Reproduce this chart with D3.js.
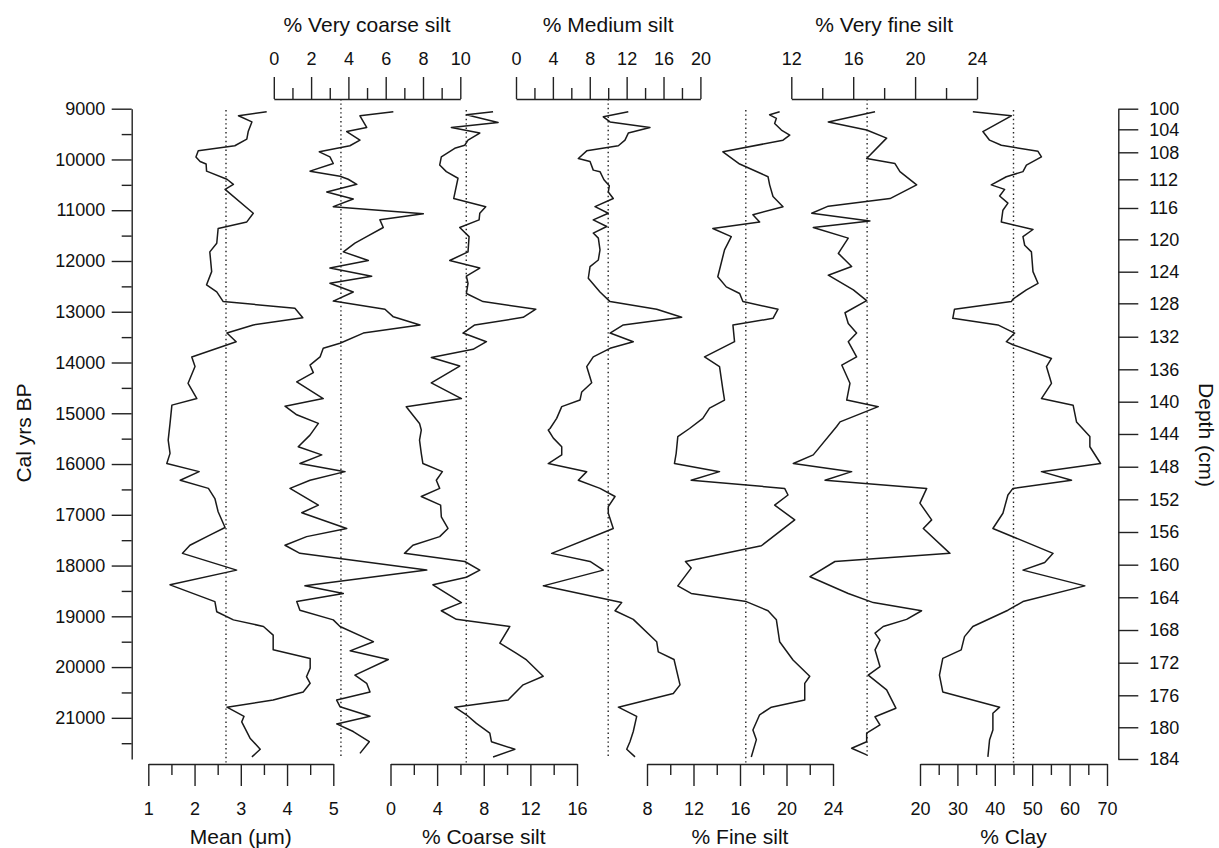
<!DOCTYPE html>
<html>
<head>
<meta charset="utf-8">
<script src="https://cdnjs.cloudflare.com/ajax/libs/d3/7.8.5/d3.min.js"></script>
<style>
    body { margin: 0; background: #fff; }
    svg text { font-family: "Liberation Sans", Arial, Helvetica, sans-serif; fill: #111; }
    .axis text { font-size: 18px; }
    .axis path, .axis line { stroke: #222; stroke-width: 1.4; fill: none; }
    .title { font-size: 21px; }
</style>
</head>
<body>
<div id="chart"></div>
<script>
    /****************************/
    /******data sets & vars******/
    /****************************/
    // each series: [cal yrs BP, value]
    var meanData = [[9060,3.56],[9140,2.95],[9260,3.24],[9450,3.16],[9600,3.13],[9730,2.87],[9830,2.08],[9950,2.03],
        [10040,2.12],[10090,2.25],[10230,2.26],[10390,2.70],[10490,2.84],[10590,2.66],[11060,3.27],[11230,3.13],
        [11360,2.51],[11650,2.48],[11820,2.33],[12210,2.37],[12470,2.26],[12610,2.48],[12800,2.62],[12930,4.17],
        [13120,4.34],[13260,3.27],[13420,2.70],[13590,2.90],[13890,1.94],[14080,2.01],[14410,1.86],[14710,2.05],
        [14840,1.51],[15200,1.47],[15530,1.43],[15790,1.47],[15990,1.40],[16150,2.10],[16320,1.69],[16480,2.30],
        [16680,2.44],[16940,2.51],[17250,2.66],[17400,2.33],[17600,1.90],[17760,1.74],[18090,2.91],[18380,1.47],
        [18710,2.44],[18910,2.48],[19070,2.84],[19200,3.49],[19370,3.70],[19660,3.70],[19830,4.50],[20020,4.50],
        [20190,4.42],[20320,4.50],[20490,4.35],[20650,3.70],[20790,2.70],[20970,3.07],[21080,3.02],[21400,3.20],
        [21620,3.42],[21770,3.24]];
    var veryCoarseData = [[9060,6.41],[9140,4.62],[9370,4.98],[9450,3.91],[9620,4.62],[9730,4.08],[9850,2.44],[9950,3.01],
        [10080,3.19],[10230,1.94],[10330,3.55],[10390,3.99],[10490,4.45],[10640,2.84],[10780,4.26],[10930,3.19],
        [11070,8.02],[11190,5.69],[11340,5.87],[11520,4.98],[11650,4.35],[11820,3.73],[11990,5.07],[12140,3.01],
        [12300,5.25],[12440,3.01],[12610,4.26],[12790,3.19],[12950,5.96],[13100,6.41],[13260,7.84],[13420,4.80],
        [13620,3.55],[13720,2.65],[13890,2.48],[14050,1.94],[14200,2.12],[14380,1.23],[14710,2.65],[14860,0.60],
        [15030,1.23],[15200,2.39],[15430,1.94],[15660,1.31],[15820,2.57],[15990,1.40],[16150,3.82],[16320,1.94],
        [16480,0.87],[16810,2.39],[16960,1.50],[17270,3.91],[17430,1.76],[17600,0.60],[17760,1.40],[18090,8.20],
        [18400,1.67],[18550,3.73],[18710,1.23],[18880,1.40],[19070,3.19],[19200,3.55],[19500,5.34],[19680,4.09],
        [19850,6.14],[20160,4.35],[20320,4.98],[20490,5.16],[20650,3.37],[20780,3.55],[20970,5.16],[21120,3.37],
        [21270,4.26],[21470,5.12],[21700,4.62]];
    var coarseData = [[9060,8.80],[9120,6.51],[9270,9.23],[9370,5.22],[9480,7.66],[9620,6.65],[9720,6.37],[9780,5.51],
        [9950,4.36],[10110,4.22],[10240,4.79],[10370,5.79],[10770,5.42],[10930,8.17],[11060,7.66],[11190,7.60],
        [11340,5.94],[11520,6.74],[11820,6.65],[11990,5.08],[12140,7.66],[12300,6.51],[12440,6.65],[12640,6.51],
        [12800,7.94],[12950,12.47],[13110,11.38],[13260,7.23],[13420,6.22],[13590,8.23],[13740,7.08],[13900,3.50],
        [14070,5.94],[14400,3.50],[14710,6.08],[14870,1.35],[15200,2.49],[15330,2.64],[15530,2.49],[15790,2.64],
        [15990,2.78],[16150,4.45],[16320,3.93],[16480,4.22],[16640,2.64],[16810,4.30],[17040,4.36],[17270,4.93],
        [17430,4.22],[17600,1.92],[17760,1.20],[17920,6.37],[18090,7.66],[18230,6.51],[18380,3.64],[18730,6.08],
        [18890,4.36],[19060,5.65],[19200,10.24],[19530,9.38],[19730,10.81],[19860,11.67],[20180,13.10],[20350,11.38],
        [20650,10.09],[20790,5.51],[20940,6.51],[21110,7.37],[21300,8.52],[21470,8.66],[21620,10.67],[21770,8.80]];
    var mediumData = [[9060,12.18],[9160,9.47],[9260,10.20],[9370,14.53],[9480,12.18],[9620,11.82],[9730,11.10],[9830,7.67],
        [9980,6.76],[10040,8.03],[10210,8.38],[10240,9.11],[10400,9.54],[10520,10.12],[10640,10.01],[10770,10.55],
        [10930,8.57],[11060,10.01],[11190,8.38],[11320,9.84],[11450,8.38],[11550,8.93],[11780,9.11],[11980,8.93],
        [12110,8.03],[12340,7.84],[12610,9.11],[12800,10.20],[12950,15.26],[13110,17.97],[13260,11.64],[13420,10.20],
        [13590,12.72],[13720,10.20],[13890,8.38],[14080,7.67],[14400,8.21],[14580,7.13],[14740,6.94],[14870,4.96],
        [15100,4.41],[15300,3.69],[15330,3.50],[15490,4.05],[15660,4.96],[15820,4.96],[15990,3.50],[16150,7.67],
        [16320,6.76],[16480,9.11],[16640,10.74],[16840,10.01],[16970,10.01],[17270,10.55],[17760,3.87],[17920,8.03],
        [18090,9.47],[18400,2.96],[18730,11.46],[18890,10.74],[19060,12.72],[19500,15.26],[19700,15.43],[19850,17.14],
        [20350,17.79],[20520,17.06],[20790,11.10],[20970,13.09],[21270,12.72],[21470,12.36],[21620,12.01],[21770,12.91]];
    var fineData = [[9060,19.41],[9120,18.55],[9190,19.13],[9290,18.98],[9420,19.56],[9520,20.28],[9620,19.70],[9850,14.53],
        [10090,15.97],[10340,18.41],[10500,18.55],[10730,18.84],[10930,19.70],[11090,17.11],[11230,17.69],[11360,13.66],
        [11520,15.25],[11780,14.67],[12310,14.09],[12510,14.82],[12640,15.97],[12800,16.25],[12950,19.27],[13130,18.84],
        [13260,15.39],[13590,15.53],[13890,12.95],[14080,14.24],[14540,14.53],[14740,14.67],[14900,13.38],[15100,12.80],
        [15300,11.66],[15460,10.65],[15790,10.51],[15990,10.36],[16150,14.24],[16320,11.80],[16480,19.84],[16610,20.13],
        [16810,18.98],[17100,20.71],[17610,17.84],[17920,11.31],[18050,11.80],[18400,10.65],[18550,11.80],[18710,16.54],
        [18890,18.41],[19070,19.13],[19500,19.41],[19860,20.56],[20180,22.00],[20320,21.57],[20650,21.57],[20790,18.70],
        [20940,17.69],[21240,17.11],[21430,17.41],[21770,16.97]];
    var veryFineData = [[9060,17.41],[9260,14.39],[9420,16.87],[9580,18.16],[9980,16.87],[10080,18.70],[10240,19.02],[10500,20.10],
        [10770,18.38],[10920,14.39],[11060,13.32],[11210,17.08],[11340,13.42],[11550,15.68],[11850,15.04],[12110,15.90],
        [12280,14.39],[12570,16.01],[12780,16.87],[13020,15.47],[13230,15.68],[13420,16.22],[13590,15.68],[13890,16.22],
        [14050,15.26],[14410,15.79],[14740,15.58],[14870,17.62],[15170,15.15],[15260,14.93],[15820,13.42],[15990,12.13],
        [16150,15.90],[16320,14.18],[16480,20.75],[16770,20.31],[17100,21.07],[17270,20.53],[17760,22.25],[17920,14.82],
        [18220,13.21],[18550,15.68],[18730,17.30],[18890,20.42],[19060,19.45],[19200,17.94],[19330,17.41],[19470,17.73],
        [19660,17.41],[19990,17.73],[20160,16.97],[20450,18.16],[20810,18.76],[20980,17.41],[21140,17.73],[21300,16.87],
        [21470,16.87],[21600,15.90],[21730,16.87]];
    var clayData = [[9060,34.13],[9140,44.42],[9450,36.81],[9620,38.61],[9720,41.74],[9840,51.55],[9950,52.47],[10110,48.45],
        [10240,47.53],[10340,43.08],[10500,39.06],[10590,42.63],[10720,41.29],[10860,43.51],[11000,42.17],[11230,41.74],
        [11380,50.21],[11520,47.53],[11690,47.99],[11820,49.79],[12210,50.21],[12440,51.55],[12570,48.45],[12750,44.85],
        [12800,44.42],[12950,29.22],[13130,28.77],[13260,40.83],[13420,45.31],[13590,43.08],[13650,44.85],[13920,55.15],
        [14080,53.81],[14410,55.15],[14710,52.47],[14840,60.94],[15170,61.85],[15460,65.42],[15660,65.42],[15990,68.28],
        [16150,52.47],[16320,60.51],[16480,44.85],[16610,43.51],[16970,42.17],[17270,39.49],[17760,55.58],[17940,53.35],
        [18090,47.53],[18400,64.08],[18710,47.53],[18880,43.51],[19200,34.13],[19400,31.90],[19660,31.02],[19830,26.09],
        [20160,25.20],[20490,26.09],[20790,41.29],[20910,39.49],[21240,39.49],[21430,38.61],[21770,38.15]];

    // dotted reference values
    var refValues = [2.68, 3.6, 6.5, 10.0, 16.5, 16.9, 45.0];

    // age axis
    var ageMajor = [9000, 10000, 11000, 12000, 13000, 14000, 15000, 16000, 17000, 18000, 19000, 20000, 21000];
    var ageMinor = [9500, 10500, 11500, 12500, 13500, 14500, 15500, 16500, 17500, 18500, 19500, 20500, 21500];
    // depth axis (age-depth model)
    var depthTicks = [100, 104, 108, 112, 116, 120, 124, 128, 132, 136, 140, 144, 148, 152, 156, 160, 164, 168, 172, 176, 180, 184];
    var depthAges = [9000, 9406, 9859, 10391, 10956, 11573, 12211, 12834, 13492, 14134, 14772, 15408, 16053, 16695,
        17339, 17983, 18625, 19270, 19914, 20556, 21186, 21811];

    // panel tick labels
    var meanMajor = [1, 2, 3, 4, 5], meanMinor = [1.5, 2.5, 3.5, 4.5];
    var veryCoarseMajor = [0, 2, 4, 6, 8, 10], veryCoarseMinor = [1, 3, 5, 7, 9];
    var coarseMajor = [0, 4, 8, 12, 16], coarseMinor = [2, 6, 10, 14];
    var mediumMajor = [0, 4, 8, 12, 16, 20], mediumMinor = [2, 6, 10, 14, 18];
    var fineMajor = [8, 12, 16, 20, 24], fineMinor = [10, 14, 18, 22];
    var veryFineMajor = [12, 16, 20, 24], veryFineMinor = [14, 18, 22];
    var clayMajor = [20, 30, 40, 50, 60, 70], clayMinor = [25, 35, 45, 55, 65];

    var w = 1219;
    var h = 848;
    var topAxisY = 99;
    var bottomAxisY = 764;

    var panels = [
        { title: "Mean (\u03bcm)", data: meanData, major: meanMajor, minor: meanMinor, x0: 148.3, x1: 333.3, side: "bottom" },
        { title: "% Very coarse silt", data: veryCoarseData, major: veryCoarseMajor, minor: veryCoarseMinor, x0: 273.8, x1: 460.3, side: "top" },
        { title: "% Coarse silt", data: coarseData, major: coarseMajor, minor: coarseMinor, x0: 390.5, x1: 577, side: "bottom" },
        { title: "% Medium silt", data: mediumData, major: mediumMajor, minor: mediumMinor, x0: 516, x1: 700.4, side: "top" },
        { title: "% Fine silt", data: fineData, major: fineMajor, minor: fineMinor, x0: 647, x1: 833, side: "bottom" },
        { title: "% Very fine silt", data: veryFineData, major: veryFineMajor, minor: veryFineMinor, x0: 791.3, x1: 977, side: "top" },
        { title: "% Clay", data: clayData, major: clayMajor, minor: clayMinor, x0: 920, x1: 1107, side: "bottom" }
    ];

    var svg = d3.select("#chart")
        .append("svg")
        .attr("width", w)
        .attr("height", h);

    var yScale = d3.scaleLinear()
        .domain([9000, 21811])
        .range([108.7, 759]);

    /****************************/
    /*********left axis**********/
    /****************************/
    svg.append("g")
        .attr("class", "axis")
        .attr("transform", "translate(131.7,0)")
        .call(d3.axisLeft(yScale).tickValues(ageMajor).tickSize(20).tickSizeOuter(0).tickPadding(6.5)
            .tickFormat(d3.format("d")));
    svg.append("g")
        .attr("class", "axis")
        .attr("transform", "translate(131.7,0)")
        .call(d3.axisLeft(yScale).tickValues(ageMinor).tickSize(10).tickFormat(""))
        .select(".domain").remove();
    svg.append("text")
        .attr("class", "title")
        .attr("transform", "translate(31,433) rotate(-90)")
        .attr("text-anchor", "middle")
        .text("Cal yrs BP");

    /****************************/
    /*********right axis*********/
    /****************************/
    var depthScale = d3.scaleLinear()
        .domain(depthTicks)
        .range(depthAges.map(function(a) { return yScale(a); }));
    svg.append("g")
        .attr("class", "axis")
        .attr("transform", "translate(1118.3,0)")
        .call(d3.axisRight(depthScale).tickValues(depthTicks).tickSize(20).tickSizeOuter(0).tickPadding(11));
    svg.append("text")
        .attr("class", "title")
        .attr("transform", "translate(1199,435) rotate(90)")
        .attr("text-anchor", "middle")
        .text("Depth (cm)");

    /****************************/
    /***********panels***********/
    /****************************/
    panels.forEach(function(p, i) {
        var xScale = d3.scaleLinear()
            .domain([p.major[0], p.major[p.major.length - 1]])
            .range([p.x0, p.x1]);
        var isTop = p.side === "top";
        var axisY = isTop ? topAxisY : bottomAxisY;

        // dotted reference line
        svg.append("line")
            .attr("x1", xScale(refValues[i]))
            .attr("x2", xScale(refValues[i]))
            .attr("y1", isTop ? topAxisY : 110)
            .attr("y2", isTop ? 757 : bottomAxisY)
            .attr("stroke", "#222")
            .attr("stroke-width", 1.4)
            .attr("stroke-dasharray", "1.4,3");

        // curve
        var line = d3.line()
            .x(function(d) { return xScale(d[1]); })
            .y(function(d) { return yScale(d[0]); });
        svg.append("path")
            .datum(p.data)
            .attr("d", line)
            .attr("fill", "none")
            .attr("stroke", "#1a1a1a")
            .attr("stroke-width", 1.5)
            .attr("stroke-linejoin", "round");

        // axis
        var majorAxis = isTop ? d3.axisTop(xScale) : d3.axisBottom(xScale);
        var minorAxis = isTop ? d3.axisTop(xScale) : d3.axisBottom(xScale);
        svg.append("g")
            .attr("class", "axis")
            .attr("transform", "translate(0," + axisY + ")")
            .call(majorAxis.tickValues(p.major).tickSize(22).tickSizeOuter(0)
                .tickPadding(isTop ? 12 : 16).tickFormat(d3.format("d")));
        svg.append("g")
            .attr("class", "axis")
            .attr("transform", "translate(0," + axisY + ")")
            .call(minorAxis.tickValues(p.minor).tickSize(11).tickFormat(""))
            .select(".domain").remove();

        svg.append("text")
            .attr("class", "title")
            .attr("x", (p.x0 + p.x1) / 2)
            .attr("y", isTop ? 32 : 844)
            .attr("text-anchor", "middle")
            .text(p.title);
    });
</script>
</body>
</html>
